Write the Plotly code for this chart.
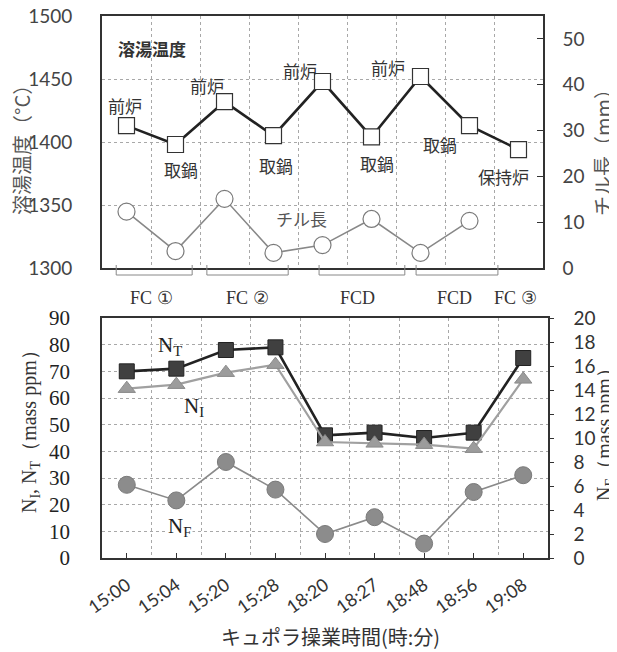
import plotly.graph_objects as go

# ---------------- data ----------------
times = ["15:00", "15:04", "15:20", "15:28", "18:20", "18:27", "18:48", "18:56", "19:08"]
melt_temp = [1413, 1398, 1432, 1405, 1448, 1404, 1452, 1413, 1394]          # °C (left, top)
chill_len = [12.3, 3.7, 15.1, 3.3, 5.0, 10.7, 3.3, 10.3, None]              # mm (right, top)
n_total = [70, 71, 78, 79, 46, 47, 45, 47, 75]                               # N_T mass ppm
n_insol = [63.5, 65, 69.5, 72.5, 43.5, 43, 42.5, 41, 67]                     # N_I mass ppm
n_free = [6.1, 4.8, 8.0, 5.7, 2.0, 3.4, 1.2, 5.5, 6.9]                       # N_F mass ppm (right)
site_labels = ["前炉", "取鍋", "前炉", "取鍋", "前炉", "取鍋", "前炉", "取鍋", "保持炉"]
site_label_x = [-0.03, 1.11, 1.64, 3.05, 3.54, 5.11, 5.34, 6.40, 7.70]
site_label_y = [1429, 1378, 1445, 1381, 1457, 1383, 1459, 1398, 1373]
groups = ["FC ①", "FC ②", "FCD", "FCD", "FC ③"]
group_label_x = [0.5, 2.46, 4.72, 6.70, 7.93]
group_spans = [(-0.21, 1.34), (1.64, 3.30), (3.93, 5.68), (5.91, 7.58)]

idx = list(range(len(times)))
W, H = 617, 652
OFF = 8  # page body margin

JP = "Noto Sans CJK JP"
SERIF = "Liberation Serif"
SANS = "Lato"
FRAME = "#333333"
GRID = "#a8a8a8"

def px_x(p):
    return (p - OFF) / W

def px_y(p):
    return 1 - (p - OFF) / H

fig = go.Figure()

# top panel
fig.add_trace(go.Scatter(
    x=idx, y=chill_len, xaxis="x", yaxis="y2", mode="lines+markers",
    line=dict(color="#888888", width=1.6),
    marker=dict(symbol="circle", size=17, color="white", line=dict(color="#7a7a7a", width=1.2)),
    showlegend=False))
fig.add_trace(go.Scatter(
    x=idx, y=melt_temp, xaxis="x", yaxis="y", mode="lines+markers",
    line=dict(color="#222222", width=2.6),
    marker=dict(symbol="square", size=16, color="white", line=dict(color="#333333", width=1.2)),
    showlegend=False))

# bottom panel
fig.add_trace(go.Scatter(
    x=idx, y=n_total, xaxis="x2", yaxis="y3", mode="lines+markers",
    line=dict(color="#222222", width=2.6),
    marker=dict(symbol="square", size=15, color="#404040", line=dict(color="#222222", width=1)),
    showlegend=False))
fig.add_trace(go.Scatter(
    x=idx, y=n_insol, xaxis="x2", yaxis="y3", mode="lines+markers",
    line=dict(color="#a0a0a0", width=2.2),
    marker=dict(symbol="triangle-up", size=15, color="#9c9c9c", line=dict(color="#8a8a8a", width=1)),
    showlegend=False))
fig.add_trace(go.Scatter(
    x=idx, y=n_free, xaxis="x2", yaxis="y4", mode="lines+markers",
    line=dict(color="#8a8a8a", width=1.6),
    marker=dict(symbol="circle", size=17, color="#8c8c8c", line=dict(color="#7a7a7a", width=1)),
    showlegend=False))

boundaries = [i + 0.5 for i in range(len(times) - 1)]
minor_grid = dict(tickmode="array", tickvals=boundaries, showgrid=True,
                  gridcolor=GRID, griddash="dot", gridwidth=1, ticks="")

top_dom_x = [px_x(102), px_x(543)]
bot_dom_x = [px_x(102), px_x(548)]

fig.update_layout(
    width=W, height=H,
    margin=dict(l=0, r=0, t=0, b=0, autoexpand=False),
    paper_bgcolor="white", plot_bgcolor="white",
    showlegend=False,
    xaxis=dict(domain=top_dom_x, anchor="y", range=[-0.5, 8.5], automargin=False,
               showticklabels=False, ticks="", showgrid=False, zeroline=False,
               showline=True, linecolor=FRAME, linewidth=1.6, mirror=True,
               minor=minor_grid),
    yaxis=dict(domain=[px_y(268), px_y(16)], anchor="x", range=[1300, 1500], dtick=50,
               automargin=False, ticklabeloverflow="allow",
               showgrid=True, gridcolor=GRID, griddash="dot", zeroline=False,
               showline=True, linecolor=FRAME, linewidth=1.6, mirror=True, ticks="",
               tickfont=dict(family=SANS, size=19, color="#444444"), ticklabelstandoff=24),
    yaxis2=dict(overlaying="y", side="right", anchor="x", range=[0, 55], dtick=10,
                automargin=False, ticklabeloverflow="allow",
                showgrid=False, zeroline=False, ticks="inside", ticklen=6, tickcolor=FRAME,
                showline=True, linecolor=FRAME, linewidth=1.6,
                tickfont=dict(family=SANS, size=19, color="#444444"), ticklabelstandoff=14),
    xaxis2=dict(domain=bot_dom_x, anchor="y3", range=[-0.5, 8.5], automargin=False,
                ticklabeloverflow="allow",
                tickmode="array", tickvals=idx, ticktext=times, tickangle=-35,
                ticks="inside", ticklen=5, tickcolor=FRAME, showgrid=False, zeroline=False,
                showline=True, linecolor=FRAME, linewidth=1.6, mirror=True,
                tickfont=dict(family=SANS, size=18, color="#333333"), ticklabelstandoff=8,
                minor=minor_grid),
    yaxis3=dict(domain=[px_y(558), px_y(318)], anchor="x2", range=[0, 90], dtick=10,
                automargin=False, ticklabeloverflow="allow",
                showgrid=True, gridcolor=GRID, griddash="dot", zeroline=False,
                showline=True, linecolor=FRAME, linewidth=1.6, mirror=True, ticks="",
                tickfont=dict(family=SERIF, size=21, color="#222222"), ticklabelstandoff=26),
    yaxis4=dict(overlaying="y3", side="right", anchor="x2", range=[0, 20], dtick=2,
                automargin=False, ticklabeloverflow="allow",
                showgrid=False, zeroline=False, ticks="outside", ticklen=4, tickcolor=FRAME,
                showline=True, linecolor=FRAME, linewidth=1.6,
                tickfont=dict(family=SANS, size=19, color="#333333"), ticklabelstandoff=16),
)

ann = []
# site labels
for t, x, y in zip(site_labels, site_label_x, site_label_y):
    ann.append(dict(text=t, x=x, y=y, xref="x", yref="y", showarrow=False,
                    font=dict(family=JP, size=17, color="#333333")))
ann.append(dict(text="<b>溶湯温度</b>", x=0.52, y=1474.6, xref="x", yref="y", showarrow=False,
                font=dict(family=JP, size=17, color="#333333")))
ann.append(dict(text="チル長", x=3.58, y=1339, xref="x", yref="y", showarrow=False,
                font=dict(family=JP, size=17, color="#555555")))

# group labels
for g, x in zip(groups, group_label_x):
    ann.append(dict(text=g, x=x, y=px_y(298), xref="x", yref="paper", showarrow=False,
                    xanchor="center", yanchor="middle",
                    font=dict(family=SERIF, size=18, color="#333333")))

# N labels
ann.append(dict(text="N<sub>T</sub>", x=0.87, y=79.5, xref="x2", yref="y3", showarrow=False,
                font=dict(family=SERIF, size=21, color="#222222")))
ann.append(dict(text="N<sub>I</sub>", x=1.35, y=56.6, xref="x2", yref="y3", showarrow=False,
                font=dict(family=SERIF, size=21, color="#222222")))
ann.append(dict(text="N<sub>F</sub>", x=1.07, y=11.6, xref="x2", yref="y3", showarrow=False,
                bgcolor="white", font=dict(family=SERIF, size=21, color="#222222")))

# axis titles
def title(text, x, y, angle, family, size, color):
    return dict(text=text, x=px_x(x), y=px_y(y), xref="paper", yref="paper",
                xanchor="center", yanchor="middle", textangle=angle, showarrow=False,
                font=dict(family=family, size=size, color=color))

ann.append(title("溶湯温度（°C）", 21, 145, -90, JP, 20, "#555555"))
ann.append(title("チル長（mm）", 602, 148, -90, JP, 20, "#555555"))
ann.append(title("N<sub>I</sub>, N<sub>T</sub>（mass ppm）", 31, 427, -90, SERIF, 20, "#333333"))
ann.append(title("N<sub>F</sub>（mass ppm）", 605, 430, -90, SERIF, 20, "#333333"))
ann.append(title("キュポラ操業時間(時:分)", 330, 636, 0, JP, 20, "#333333"))

fig.update_layout(annotations=ann)

# brackets under top panel
shapes = []
y_top, y_bot = px_y(265), px_y(275)
for a, b in group_spans:
    shapes.append(dict(type="path", xref="x", yref="paper",
                       path=f"M {a},{y_top} L {a},{y_bot} L {b},{y_bot} L {b},{y_top}",
                       line=dict(color="#888888", width=1)))
fig.update_layout(shapes=shapes)

fig.write_html("out.html")
